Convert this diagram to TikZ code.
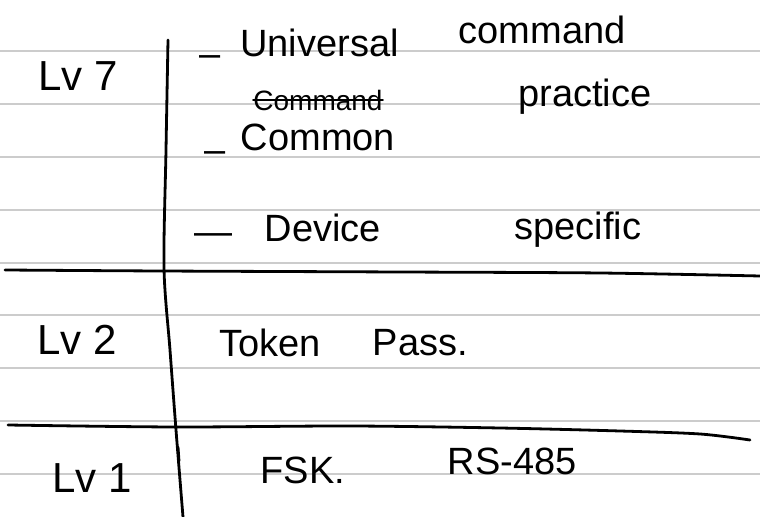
\documentclass[tikz,border=0pt]{standalone}
\usepackage{fontspec}
\setmainfont{Liberation Sans}
\usetikzlibrary{positioning}

\begin{document}
\begin{tikzpicture}[x=0.5pt,y=-0.5pt,node distance=0.5cm]
  \tikzstyle{ruling} = [draw=black!20, line width=1pt]
  \tikzstyle{pen} = [draw=black, line width=1.4pt, line cap=round, line join=round]
  \tikzstyle{layer} = [font=\fontsize{21}{24}\selectfont, inner sep=0pt]
  \tikzstyle{note} = [font=\fontsize{19}{22}\selectfont, inner sep=0pt]
  \tikzstyle{small} = [font=\fontsize{14}{16}\selectfont, inner sep=0pt]

  \fill[white] (0,0) rectangle (760,517);
  \useasboundingbox (0,0) rectangle (760,517);

  % lined paper
  \foreach \i in {0,...,8}
    \draw [ruling] (0,51+52.9*\i) -- (760,51+52.9*\i);

  % table strokes
  \draw [pen] plot [smooth] coordinates {(168,40) (166,150) (164,268) (170,350) (176,430) (183,517)};
  \draw [pen] (178,447) -- (179,461);
  \draw [pen] plot [smooth] coordinates {(5,270) (160,271) (400,272) (600,273) (760,276)};
  \draw [pen] plot [smooth] coordinates {(8,425) (175,427) (350,426) (500,428) (620,431) (700,434) (750,440)};

  % Lv 7
  \node (lv7) [layer] at (78,76) {Lv 7};
  \node (dash1) [note] at (210,61) {–};
  \node (universal) [note, anchor=west] at (240,43) {Universal};
  \node (command) [note] at (542,30) {command};
  \node (struck) [small] at (318,100) {Command};
  \draw [pen, line width=1pt] (struck.west) -- (struck.east);
  \node (common) [note] at (318,137) {Common};
  \node (practice) [note] at (585,97) {practice};
  \node (dash2) [note] at (215,157) {–};
  \node (dash3) [note] at (213,239) {—};
  \node (device) [note] at (323,228) {Device};
  \node (specific) [note] at (578,230) {specific};

  % Lv 2
  \node (lv2) [layer] at (77,340) {Lv 2};
  \node (token) [note] at (270,343) {Token};
  \node (pass) [note, right=0.9cm of token] {Pass.};

  % Lv 1
  \node (lv1) [layer] at (92,478) {Lv 1};
  \node (fsk) [note] at (303,470) {FSK.};
  \node (rs485) [note] at (512,461) {RS-485};
\end{tikzpicture}
\end{document}
